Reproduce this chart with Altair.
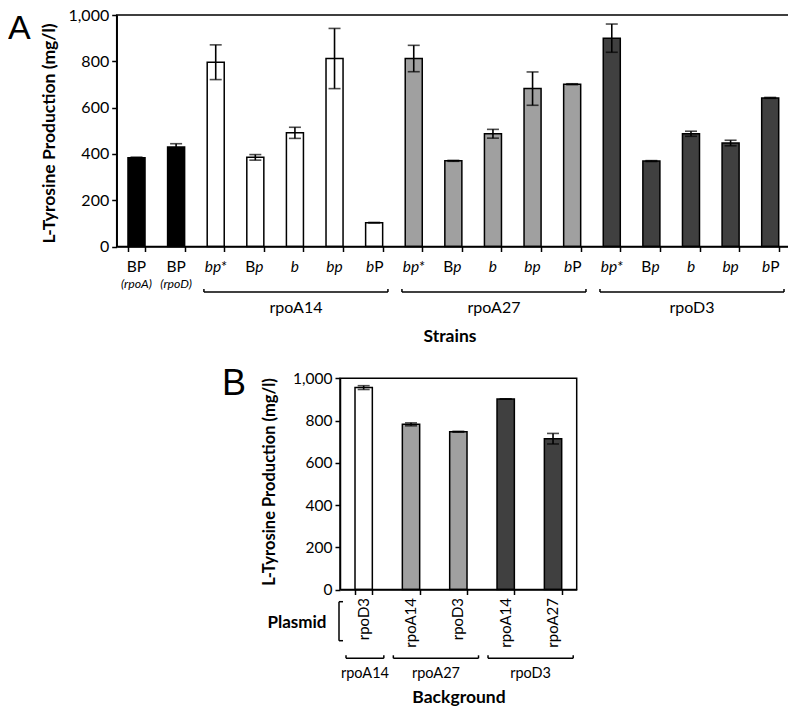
import re
import altair as alt
import pandas as pd

# ------------------------------------------------------------------ data
A_LABELS = ["BP", "BP", "bp*", "Bp", "b", "bp", "bP",
            "bp*", "Bp", "b", "bp", "bP",
            "bp*", "Bp", "b", "bp", "bP"]
A_SUBLABELS = ["(rpoA)", "(rpoD)"] + [""] * 15
A_STRAIN = ["control", "control"] + ["rpoA14"] * 5 + ["rpoA27"] * 5 + ["rpoD3"] * 5
A_VALUES = [383, 430, 796, 385, 491, 812, 103, 812, 370, 487, 682, 701, 900, 369, 487, 447, 642]
A_ERRORS = [3, 14, 75, 12, 24, 130, 1, 57, 2, 19, 72, 2, 61, 2, 11, 12, 2]
A_GROUP_NAMES = ["rpoA14", "rpoA27", "rpoD3"]

B_PLASMID = ["rpoD3", "rpoA14", "rpoD3", "rpoA14", "rpoA27"]
B_BACKGROUND = ["rpoA14", "rpoA27", "rpoA27", "rpoD3", "rpoD3"]
B_VALUES = [956, 782, 747, 902, 714]
B_ERRORS = [9, 7, 2, 1, 25]
B_GROUP_NAMES = ["rpoA14", "rpoA27", "rpoD3"]

Y_TICKS = [0, 200, 400, 600, 800, 1000]
Y_TITLE = "L-Tyrosine Production (mg/l)"
STRAIN_KEYS = ["control", "rpoA14", "rpoA27", "rpoD3"]
STRAIN_COLORS = ["#000000", "#ffffff", "#a0a0a0", "#404040"]

# ------------------------------------------------------------------ layout
W, H = 780, 699
FONT = "Lato"
A_X0, A_X1, A_Y0, A_Y1 = 108.7, 782.0, 238.5, 7.0
B_X0, B_X1, B_Y0, B_Y1 = 332.0, 568.7, 581.5, 370.3

A_CATS = [f"a{i:02d}" for i in range(len(A_VALUES))]
B_CATS = [f"b{i}" for i in range(len(B_VALUES))]

dfA = pd.DataFrame({
    "cat": A_CATS, "label": A_LABELS, "sub": A_SUBLABELS, "strain": A_STRAIN,
    "value": A_VALUES,
    "lo": [v - e for v, e in zip(A_VALUES, A_ERRORS)],
    "hi": [v + e for v, e in zip(A_VALUES, A_ERRORS)],
})
dfB = pd.DataFrame({
    "cat": B_CATS, "plasmid": B_PLASMID, "strain": B_BACKGROUND,
    "value": B_VALUES,
    "lo": [v - e for v, e in zip(B_VALUES, B_ERRORS)],
    "hi": [v + e for v, e in zip(B_VALUES, B_ERRORS)],
})

color = alt.Color("strain:N", scale=alt.Scale(domain=STRAIN_KEYS, range=STRAIN_COLORS), legend=None)

axis_common = dict(grid=False, domainColor="black", tickColor="black", labelColor="black",
                   titleColor="black", domainWidth=1.5, tickWidth=1.5, labelFont=FONT, titleFont=FONT)


def panel(df, cats, x0, x1, y0, y1, pad_inner, label_size, title_size, title_x, title_y):
    xs = alt.Scale(domain=cats, range=[x0, x1], paddingInner=pad_inner, paddingOuter=pad_inner / 2)
    ys = alt.Scale(domain=[0, 1000], range=[y0, y1], nice=False, zero=True)
    ax_x = alt.Axis(orient="bottom", offset=y0 - H, labels=False, title=None, tickBand="extent",
                    tickSize=5, **axis_common)
    ax_y = alt.Axis(orient="left", offset=-x0, values=Y_TICKS, format=",.0f", tickSize=5, labelPadding=3,
                    labelFontSize=label_size, title=Y_TITLE, titleFontSize=title_size,
                    titleFontWeight="bold", titleX=title_x, titleY=title_y,
                    titleBaseline="middle", titleAlign="center", titleAngle=270, **axis_common)
    base = alt.Chart(df)
    bars = base.mark_bar(stroke="black", strokeWidth=1.5).encode(
        x=alt.X("cat:N", scale=xs, axis=ax_x),
        y=alt.Y("value:Q", scale=ys, axis=ax_y),
        color=color,
    )
    err = base.mark_rule(color="black", strokeWidth=1.6).encode(
        x=alt.X("cat:N", scale=xs, axis=None),
        y=alt.Y("lo:Q", scale=ys, axis=None), y2="hi:Q",
    )
    cap_lo = base.mark_tick(color="black", size=12, thickness=1.6).encode(
        x=alt.X("cat:N", scale=xs, axis=None), y=alt.Y("lo:Q", scale=ys, axis=None))
    cap_hi = base.mark_tick(color="black", size=12, thickness=1.6).encode(
        x=alt.X("cat:N", scale=xs, axis=None), y=alt.Y("hi:Q", scale=ys, axis=None))
    frame = alt.Chart(pd.DataFrame({"k": [0]})).mark_rect(
        fillOpacity=0, stroke="black", strokeWidth=1.5).encode(
        x=alt.value(x0), x2=alt.value(x1), y=alt.value(y1), y2=alt.value(y0))
    return xs, [bars, err, cap_lo, cap_hi, frame]


# ---------------------------------------------------------------- panel A
xsA, layersA = panel(dfA, A_CATS, A_X0, A_X1, A_Y0, A_Y1, 0.57, 16, 17.5, -67.7, 125)

parts = []
for cat, lab in zip(A_CATS, A_LABELS):
    runs = re.findall(r"[A-Z]+|[a-z*]+", lab)
    for k, r in enumerate(runs):
        style = "italic" if r[0].islower() or r[0] == "*" else "normal"
        align = "center" if len(runs) == 1 else ("right" if k == 0 else "left")
        parts.append({"cat": cat, "part": r, "style": style, "align": align})
dfParts = pd.DataFrame(parts)

for style in ("normal", "italic"):
    for align in ("center", "left", "right"):
        layersA.append(
            alt.Chart(dfParts)
            .transform_filter((alt.datum.style == style) & (alt.datum.align == align))
            .mark_text(font=FONT, fontSize=15.5, fontStyle=style, align=align,
                       baseline="alphabetic", color="black")
            .encode(x=alt.X("cat:N", scale=xsA, axis=None), y=alt.value(264), text="part:N")
        )

layersA.append(
    alt.Chart(dfA).transform_filter(alt.datum.sub != "")
    .mark_text(font=FONT, fontSize=12.3, fontStyle="italic", baseline="alphabetic", color="black")
    .encode(x=alt.X("cat:N", scale=xsA, axis=None), y=alt.value(280), text="sub:N")
)

# ---------------------------------------------------------------- panel B
xsB, layersB = panel(dfB, B_CATS, B_X0, B_X1, B_Y0, B_Y1, 0.634, 15.5, 16.5, -70.3, 473.5)
layersB.append(
    alt.Chart(dfB).mark_text(font=FONT, fontSize=15, angle=270, align="right",
                             baseline="middle", color="black")
    .encode(x=alt.X("cat:N", scale=xsB, axis=None), y=alt.value(590), text="plasmid:N")
)

# ------------------------------------------------------------ decorations
def brackets(cat_groups, names, x0, x1, n, y, tick, inset_l, inset_r):
    step = (x1 - x0) / n
    segs, labels = [], []
    for name in names:
        idx = [i for i, g in enumerate(cat_groups) if g == name]
        a = x0 + min(idx) * step + inset_l
        b = x0 + (max(idx) + 1) * step - inset_r
        segs += [{"x": a, "x2": b, "y": y, "y2": y},
                 {"x": a, "x2": a, "y": y - tick, "y2": y},
                 {"x": b, "x2": b, "y": y - tick, "y2": y}]
        labels.append({"name": name, "x": (a + b) / 2})
    return pd.DataFrame(segs), pd.DataFrame(labels)


def seg_layer(df):
    return alt.Chart(df).mark_rule(color="black", strokeWidth=1.5).encode(
        x=alt.X("x:Q", scale=None, axis=None), x2="x2:Q",
        y=alt.Y("y:Q", scale=None, axis=None), y2="y2:Q")


def group_text(df, y, size):
    return alt.Chart(df).mark_text(font=FONT, fontSize=size, baseline="alphabetic", color="black").encode(
        x=alt.X("x:Q", scale=None, axis=None), y=alt.value(y), text="name:N")


def free_text(t, x, y, size, weight="normal", font=FONT, align="center"):
    return alt.Chart(pd.DataFrame({"t": [t]})).mark_text(
        font=font, fontSize=size, fontWeight=weight, align=align, baseline="alphabetic",
        color="black").encode(x=alt.value(x), y=alt.value(y), text="t:N")


segA, labA = brackets(A_STRAIN, A_GROUP_NAMES, A_X0, A_X1, len(A_CATS), 284, 3, 8, 6)
segB, labB = brackets(B_BACKGROUND, B_GROUP_NAMES, B_X0, B_X1, len(B_CATS), 650.3, 3, 6, 3.5)
plasmid_bracket = pd.DataFrame([
    {"x": 331, "x2": 331, "y": 593.7, "y2": 632.7},
    {"x": 331, "x2": 335, "y": 593.7, "y2": 593.7},
    {"x": 331, "x2": 335, "y": 632.7, "y2": 632.7},
])

deco = [
    seg_layer(segA), group_text(labA, 304.5, 16),
    seg_layer(segB), group_text(labB, 669.5, 14.5),
    seg_layer(plasmid_bracket),
    free_text("Strains", 442, 334, 17.5, "bold"),
    free_text("Plasmid", 289, 619.5, 17, "bold"),
    free_text("Background", 451, 694.5, 17.5, "bold"),
    free_text("A", 0, 31, 34, font="Liberation Sans", align="left"),
    free_text("B", 214, 387, 36, font="Liberation Sans", align="left"),
]

chart = (
    alt.layer(*layersA, *layersB, *deco)
    .resolve_scale(x="independent", y="independent")
    .properties(width=W, height=H, autosize=alt.AutoSizeParams(type="none"), padding=0)
    .configure_view(stroke=None)
)

chart.save("out.html", embed_options={"renderer": "svg", "actions": False})
